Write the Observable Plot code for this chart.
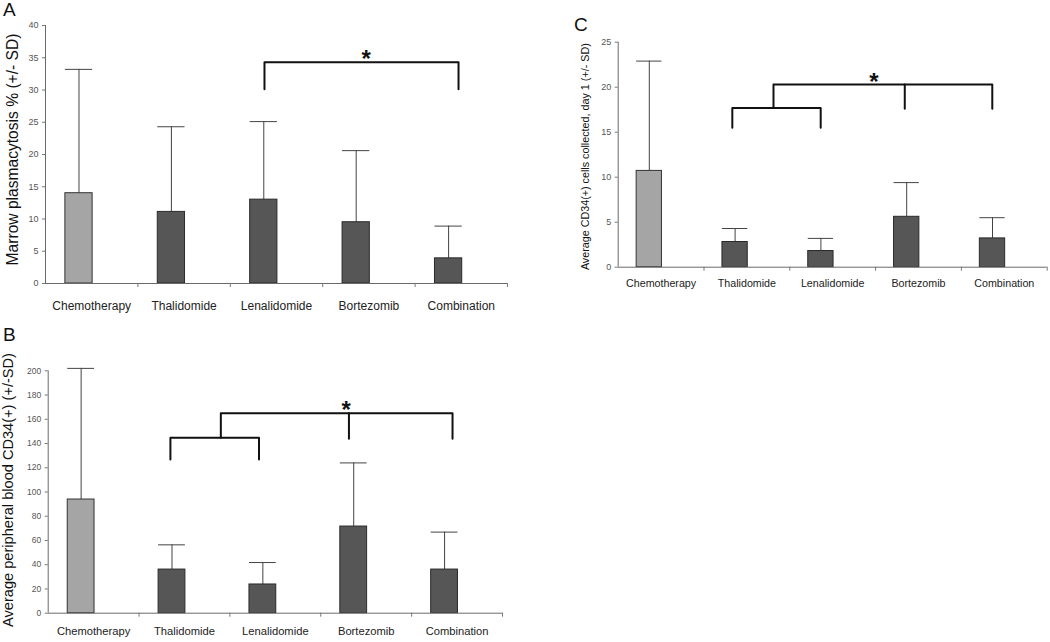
<!DOCTYPE html>
<html>
<head>
<meta charset="utf-8">
<script src="https://cdn.jsdelivr.net/npm/d3@7"></script>
<script src="https://cdn.jsdelivr.net/npm/@observablehq/plot@0.6"></script>
<style>
  html, body { margin: 0; padding: 0; background: #fff; }
  #wrap { position: relative; width: 1050px; height: 642px; overflow: hidden; background: #fff; font-family: "Liberation Sans", Arial, sans-serif; }
  .panel { position: absolute; }
  .letter { position: absolute; font-size: 19px; line-height: 1; color: #111; font-family: "Liberation Sans", Arial, sans-serif; }
</style>
</head>
<body>
<div id="wrap">
  <div class="panel" id="pA" style="left:0px;top:0px;"></div>
  <div class="panel" id="pB" style="left:0px;top:330px;"></div>
  <div class="panel" id="pC" style="left:560px;top:0px;"></div>
  <div class="letter" style="left:3px;top:0px;">A</div>
  <div class="letter" style="left:3px;top:325px;">B</div>
  <div class="letter" style="left:574px;top:15px;">C</div>
</div>
<script>
// ---------- data ----------
const categories = ["Chemotherapy", "Thalidomide", "Lenalidomide", "Bortezomib", "Combination"];

// Panel A: marrow plasmacytosis %
const marrowMean = [14.0, 11.1, 13.0, 9.5, 3.9];
const marrowSD   = [19.2, 13.2, 12.1, 11.1, 5.0];
const marrowTicks = [0, 5, 10, 15, 20, 25, 30, 35, 40];

// Panel B: average peripheral blood CD34(+)
const bloodMean = [93.8, 36.0, 23.7, 71.5, 36.0];
const bloodSD   = [108.2, 20.4, 18.1, 52.5, 30.9];
const bloodTicks = [0, 20, 40, 60, 80, 100, 120, 140, 160, 180, 200];

// Panel C: average CD34(+) cells collected, day 1
const cellsMean = [10.7, 2.8, 1.8, 5.6, 3.2];
const cellsSD   = [12.2, 1.5, 1.4, 3.8, 2.3];
const cellsTicks = [0, 5, 10, 15, 20, 25];

// significance brackets (x in category-index units, y in data units)
const bracketA = [
  {g: 1, x: 2.37, y: 30.1}, {g: 1, x: 2.37, y: 34.3}, {g: 1, x: 4.47, y: 34.3}, {g: 1, x: 4.47, y: 30.1}
];
const starA = {x: 3.47, y: 34.3};

const bracketB = [
  {g: 1, x: 1.345, y: 126.8}, {g: 1, x: 1.345, y: 144.7}, {g: 1, x: 2.32, y: 144.7}, {g: 1, x: 2.32, y: 126.8},
  {g: 2, x: 1.90, y: 144.7}, {g: 2, x: 1.90, y: 165}, {g: 2, x: 4.45, y: 165}, {g: 2, x: 4.45, y: 144},
  {g: 3, x: 3.31, y: 165}, {g: 3, x: 3.31, y: 144}
];
const starB = {x: 3.28, y: 165};

const bracketC = [
  {g: 1, x: 1.33, y: 15.5}, {g: 1, x: 1.33, y: 17.7}, {g: 1, x: 2.36, y: 17.7}, {g: 1, x: 2.36, y: 15.5},
  {g: 2, x: 1.81, y: 17.7}, {g: 2, x: 1.81, y: 20.3}, {g: 2, x: 4.36, y: 20.3}, {g: 2, x: 4.36, y: 17.6},
  {g: 3, x: 3.34, y: 20.3}, {g: 3, x: 3.34, y: 17.6}
];
const starC = {x: 2.98, y: 20.3};

// ---------- drawing ----------
const BAR_L = 0.215, BAR_R = 0.51, BAR_C = (BAR_L + BAR_R) / 2;
const LIGHT = "#a5a5a5", DARK = "#565656";
const FONT = "'Liberation Sans', Arial, sans-serif";

function panel(o) {
  const rows = categories.map((c, i) => ({i, cat: c, mean: o.mean[i], hi: o.mean[i] + o.sd[i]}));
  const yMid = (o.yDomain[0] + o.yDomain[1]) / 2;
  return Plot.plot({
    width: o.width, height: o.height,
    marginLeft: o.ml, marginRight: o.mr, marginTop: o.mt, marginBottom: o.mb,
    x: {type: "linear", domain: [0, 5], axis: null},
    y: {domain: o.yDomain, axis: null},
    style: {fontFamily: FONT, background: "white", overflow: "visible"},
    marks: [
      Plot.ruleX(rows, {x: d => d.i + BAR_C, y1: "mean", y2: "hi", stroke: "#444", strokeWidth: 1}),
      Plot.ruleY(rows, {y: "hi", x1: d => d.i + BAR_L, x2: d => d.i + BAR_R, stroke: "#444", strokeWidth: 1}),
      Plot.rectY(rows.filter(d => d.i === 0), {x1: d => d.i + BAR_L, x2: d => d.i + BAR_R, y1: 0, y2: "mean", fill: LIGHT, stroke: "#333", strokeWidth: 1}),
      Plot.rectY(rows.filter(d => d.i > 0), {x1: d => d.i + BAR_L, x2: d => d.i + BAR_R, y1: 0, y2: "mean", fill: DARK, stroke: "#2a2a2a", strokeWidth: 1}),
      Plot.axisY({ticks: o.yTicks, tickSize: 3, tickPadding: 4, fontSize: o.tickFont, fill: "#555", stroke: "#777", label: null}),
      Plot.ruleX([0], {stroke: "#6a6a6a", strokeWidth: 1}),
      Plot.ruleY([0], {stroke: "#6a6a6a", strokeWidth: 1}),
      Plot.axisX({ticks: [1, 2, 3, 4, 5], tickSize: 4, tickFormat: () => "", stroke: "#777", label: null}),
      Plot.axisX({ticks: [0.5, 1.5, 2.5, 3.5, 4.5], tickSize: 0, tickPadding: o.xPad, tickFormat: v => categories[Math.floor(v)], fontSize: o.xFont, fill: "#222", label: null}),
      Plot.line(o.bracket, {x: "x", y: "y", z: "g", stroke: "#111", strokeWidth: 2, curve: "linear"}),
      Plot.text([o.star], {x: "x", y: "y", text: () => "*", fontSize: 24, fontWeight: "bold", fill: "#111", lineAnchor: "bottom", dy: o.starDy}),
      Plot.text([o.yLabel], {x: () => 0, y: () => yMid, text: d => d, rotate: -90, dx: o.labelDx, dy: o.labelDy, fontSize: o.labelFont, fill: "#111"})
    ]
  });
}

document.getElementById("pA").appendChild(panel({
  width: 520, height: 330, ml: 45, mr: 13, mt: 25, mb: 47,
  yDomain: [0, 40], yTicks: marrowTicks, mean: marrowMean, sd: marrowSD,
  tickFont: 9, xFont: 12, xPad: 18,
  bracket: bracketA, star: starA, starDy: 5,
  yLabel: "Marrow plasmacytosis % (+/- SD)", labelFont: 15.6, labelDx: -33, labelDy: -5
}));

document.getElementById("pB").appendChild(panel({
  width: 520, height: 312, ml: 47.7, mr: 18, mt: 40.3, mb: 29.3,
  yDomain: [0, 200], yTicks: bloodTicks, mean: bloodMean, sd: bloodSD,
  tickFont: 8.5, xFont: 11.2, xPad: 14,
  bracket: bracketB, star: starB, starDy: 5,
  yLabel: "Average peripheral blood CD34(+) (+/-SD)", labelFont: 14.6, labelDx: -40, labelDy: -2
}));

document.getElementById("pC").appendChild(panel({
  width: 490, height: 300, ml: 57.7, mr: 3.3, mt: 41.7, mb: 33.3,
  yDomain: [0, 25], yTicks: cellsTicks, mean: cellsMean, sd: cellsSD,
  tickFont: 9, xFont: 10.7, xPad: 12,
  bracket: bracketC, star: starC, starDy: 5,
  yLabel: "Average CD34(+) cells collected, day 1 (+/- SD)", labelFont: 10.75, labelDx: -32.7, labelDy: 2
}));
</script>
</body>
</html>
